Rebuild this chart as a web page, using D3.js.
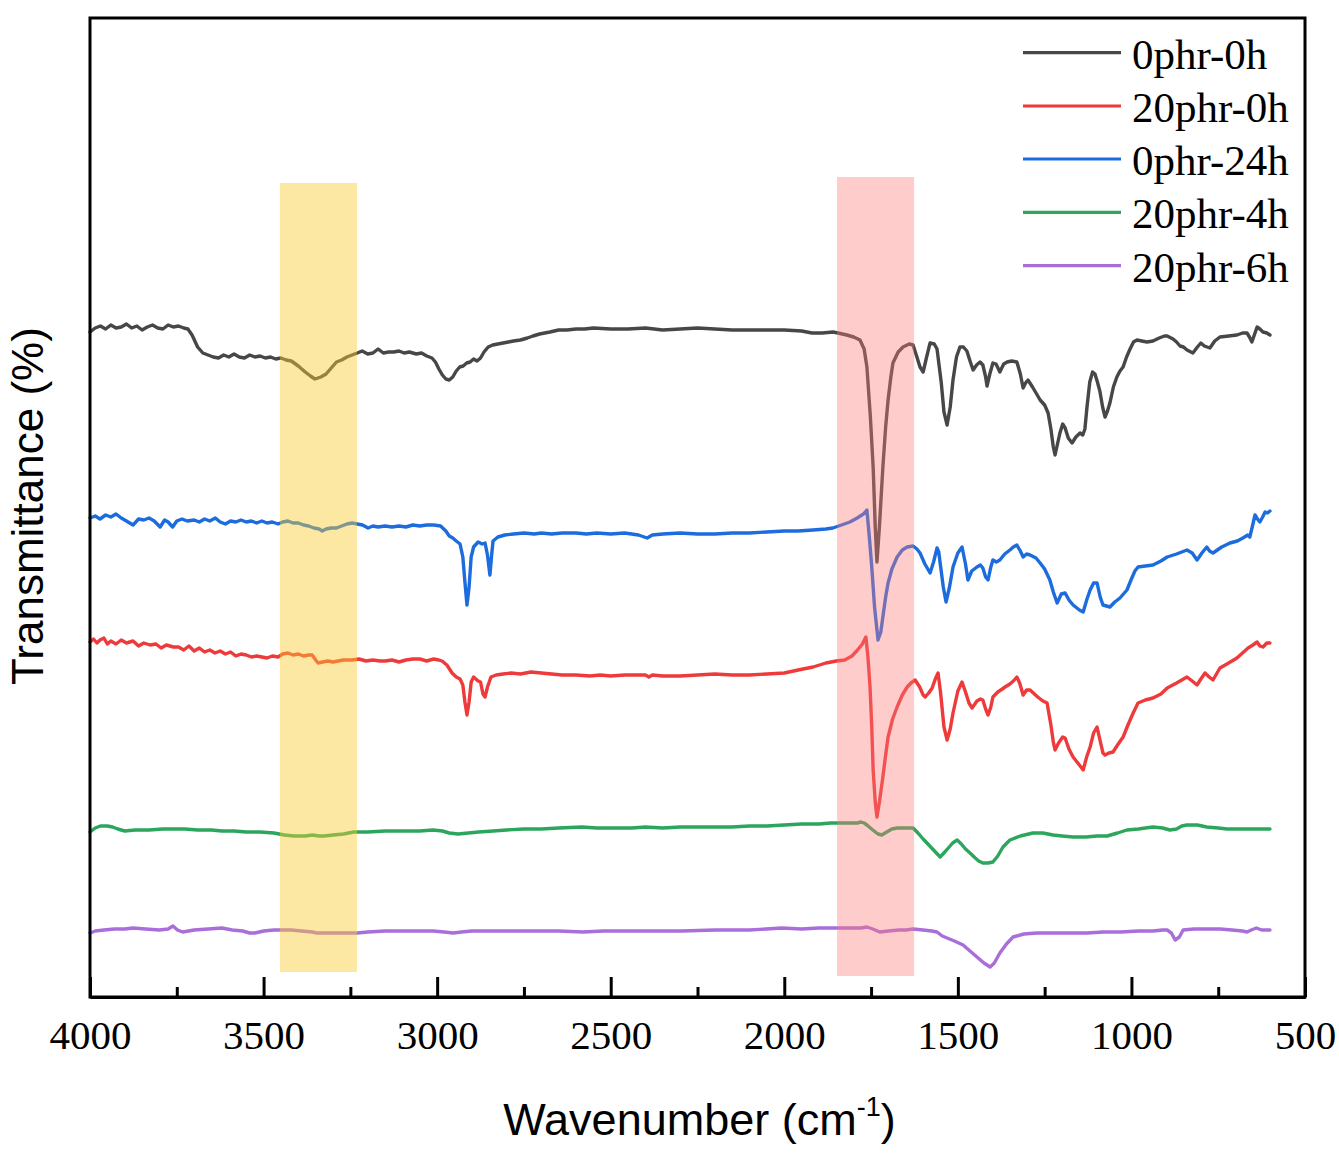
<!DOCTYPE html>
<html>
<head>
<meta charset="utf-8">
<script src="https://cdn.jsdelivr.net/npm/d3@7"></script>
<style>
  html, body { margin: 0; padding: 0; background: #fff; }
  svg { display: block; }
</style>
</head>
<body>
<div id="chart"></div>
<script>
// ---------------- DATA (wavenumber cm-1, transmittance a.u.) ----------------
const seriesNames = ["0phr-0h", "20phr-0h", "0phr-24h", "20phr-4h", "20phr-6h"];

const black = [
[4000,66.5],[3985,66.9],[3970,67.1],[3955,66.8],[3940,67.2],[3925,66.9],[3910,67.0],[3895,67.3],[3880,66.9],[3865,67.1],[3850,66.7],[3835,67.0],[3820,67.2],[3805,66.9],[3790,66.8],[3775,67.2],[3760,67.0],[3745,67.1],[3730,66.9],[3718,66.8],[3706,66.2],[3690,65.0],[3675,64.4],[3660,64.2],[3645,64.0],[3630,63.9],[3615,64.2],[3600,64.0],[3585,64.3],[3570,64.0],[3555,63.9],[3540,64.2],[3525,64.0],[3510,64.1],[3495,63.9],[3480,64.0],[3465,63.8],[3450,63.9],[3435,63.7],[3420,63.6],[3400,63.1],[3380,62.5],[3365,62.1],[3352,61.8],[3335,62.0],[3320,62.3],[3305,62.9],[3290,63.5],[3275,63.7],[3260,64.0],[3245,64.2],[3230,64.4],[3216,64.6],[3200,64.3],[3185,64.4],[3170,64.8],[3155,64.4],[3140,64.5],[3125,64.5],[3110,64.6],[3095,64.4],[3080,64.5],[3060,64.3],[3045,64.4],[3030,64.1],[3015,63.9],[3005,63.5],[2995,62.8],[2985,62.2],[2975,61.8],[2965,61.7],[2955,62.0],[2945,62.6],[2935,63.0],[2925,63.1],[2915,63.4],[2905,63.5],[2895,63.8],[2885,63.6],[2875,63.9],[2865,64.5],[2853,65.0],[2840,65.2],[2825,65.3],[2810,65.4],[2795,65.5],[2780,65.6],[2760,65.7],[2740,65.9],[2724,66.1],[2705,66.3],[2690,66.4],[2675,66.5],[2650,66.7],[2626,66.7],[2600,66.8],[2575,66.8],[2550,66.9],[2500,66.8],[2450,66.8],[2400,66.9],[2350,66.7],[2300,66.8],[2250,66.9],[2200,66.8],[2150,66.7],[2100,66.7],[2050,66.7],[2000,66.7],[1950,66.6],[1920,66.4],[1890,66.4],[1860,66.5],[1845,66.4],[1820,66.2],[1800,66.0],[1782,65.7],[1770,64.8],[1762,63.0],[1752,58.0],[1744,53.0],[1738,47.0],[1733,43.5],[1726,47.0],[1716,53.0],[1708,57.0],[1701,59.7],[1693,62.0],[1687,63.4],[1672,64.5],[1658,65.0],[1640,65.3],[1629,65.2],[1618,64.0],[1609,63.0],[1600,62.5],[1590,64.0],[1580,65.4],[1568,65.3],[1560,64.8],[1548,61.5],[1540,58.5],[1531,57.2],[1522,59.0],[1514,61.7],[1504,64.0],[1494,65.0],[1484,65.0],[1474,64.6],[1464,63.5],[1456,62.7],[1446,63.2],[1436,63.5],[1428,63.2],[1420,62.0],[1416,61.1],[1408,62.3],[1399,63.4],[1390,63.3],[1379,62.5],[1368,63.3],[1358,63.5],[1345,63.6],[1330,63.5],[1320,62.3],[1312,60.9],[1305,61.4],[1298,61.7],[1285,61.0],[1273,60.3],[1263,59.7],[1250,59.2],[1240,58.4],[1232,56.8],[1225,55.0],[1220,54.2],[1213,55.3],[1206,56.4],[1198,57.3],[1191,56.9],[1182,55.9],[1171,55.4],[1160,56.0],[1148,56.4],[1140,56.2],[1134,56.8],[1128,59.0],[1120,61.5],[1112,62.5],[1105,62.3],[1098,61.5],[1091,60.6],[1083,59.0],[1076,58.0],[1069,58.6],[1062,59.4],[1052,61.0],[1042,62.0],[1033,62.6],[1024,63.0],[1014,64.0],[1004,64.8],[994,65.5],[984,65.7],[970,65.6],[955,65.5],[938,65.6],[920,65.9],[905,66.1],[897,66.1],[880,65.8],[870,65.5],[860,65.1],[850,65.0],[840,64.7],[823,64.4],[810,65.0],[800,65.4],[790,65.1],[774,64.9],[760,65.6],[745,66.0],[720,66.1],[696,66.2],[680,66.4],[667,66.4],[660,66.0],[653,65.5],[645,66.3],[638,67.0],[630,66.8],[621,66.5],[610,66.4],[601,66.2]
];

const red = [
[4000,35.5],[3990,35.8],[3980,35.4],[3971,35.7],[3960,35.9],[3950,35.3],[3940,35.6],[3925,35.3],[3910,35.7],[3895,35.4],[3876,35.6],[3860,35.1],[3845,35.4],[3827,35.2],[3810,35.3],[3795,34.9],[3780,35.2],[3760,35.0],[3745,35.0],[3730,34.7],[3715,35.1],[3700,34.6],[3685,34.9],[3670,34.5],[3655,34.7],[3640,34.4],[3625,34.6],[3610,34.3],[3595,34.5],[3580,34.1],[3565,34.3],[3550,34.2],[3535,34.0],[3520,34.1],[3505,34.0],[3490,33.9],[3475,34.1],[3458,34.0],[3445,34.3],[3430,34.4],[3415,34.2],[3400,34.3],[3385,34.1],[3370,34.2],[3360,34.2],[3350,33.7],[3343,33.4],[3330,33.5],[3315,33.6],[3300,33.5],[3285,33.6],[3270,33.7],[3245,33.7],[3225,33.8],[3205,33.6],[3185,33.7],[3165,33.6],[3150,33.6],[3130,33.7],[3110,33.5],[3090,33.7],[3070,33.8],[3050,33.8],[3030,33.6],[3010,33.8],[2995,33.7],[2986,33.6],[2972,33.2],[2957,32.4],[2945,32.0],[2934,31.8],[2926,31.2],[2920,29.5],[2914,28.2],[2908,29.5],[2902,31.5],[2895,32.0],[2882,31.6],[2875,31.5],[2868,30.3],[2862,30.0],[2855,31.0],[2845,32.0],[2830,32.2],[2810,32.3],[2787,32.4],[2760,32.3],[2730,32.5],[2700,32.4],[2670,32.3],[2640,32.2],[2600,32.2],[2560,32.1],[2530,32.2],[2500,32.1],[2460,32.2],[2430,32.2],[2400,32.2],[2390,32.0],[2380,32.2],[2350,32.1],[2300,32.1],[2250,32.2],[2200,32.3],[2150,32.2],[2100,32.2],[2050,32.3],[2000,32.4],[1960,32.7],[1917,33.0],[1880,33.4],[1850,33.6],[1826,33.7],[1805,34.1],[1789,34.7],[1775,35.3],[1765,36.0],[1759,34.0],[1753,31.0],[1748,27.0],[1744,22.7],[1738,19.5],[1733,18.0],[1726,19.5],[1716,22.0],[1708,24.2],[1701,26.0],[1688,27.8],[1675,29.0],[1660,30.2],[1646,31.0],[1635,31.4],[1623,31.7],[1610,31.0],[1600,30.2],[1594,30.0],[1584,30.4],[1574,30.9],[1565,31.8],[1557,32.4],[1550,30.5],[1540,27.0],[1531,25.7],[1522,26.8],[1514,28.4],[1500,30.6],[1488,31.5],[1478,30.5],[1468,29.4],[1459,28.9],[1445,29.6],[1435,29.8],[1428,29.7],[1420,28.8],[1413,28.2],[1405,29.0],[1399,30.0],[1385,30.5],[1372,30.8],[1364,31.0],[1350,31.3],[1340,31.6],[1330,32.0],[1322,31.4],[1312,30.2],[1302,30.7],[1292,30.7],[1270,30.0],[1255,29.6],[1243,29.4],[1232,27.2],[1225,25.5],[1220,24.7],[1210,25.4],[1198,26.0],[1191,25.9],[1180,24.8],[1168,24.0],[1150,23.2],[1139,22.7],[1129,24.0],[1119,25.0],[1109,26.4],[1099,27.0],[1090,25.6],[1082,24.4],[1076,24.2],[1065,24.4],[1053,24.5],[1040,25.2],[1024,26.0],[1010,27.2],[995,28.4],[981,29.4],[960,29.7],[938,29.9],[915,30.3],[897,30.9],[870,31.4],[840,32.0],[825,31.6],[811,31.2],[800,31.8],[788,32.4],[776,32.0],[765,31.7],[755,32.3],[745,32.9],[720,33.4],[696,33.9],[680,34.4],[664,34.9],[650,35.2],[638,35.5],[630,35.1],[621,35.0],[610,35.4],[601,35.4]
];

const blue = [
[4000,47.9],[3985,48.1],[3971,47.8],[3955,48.2],[3940,48.0],[3925,48.3],[3910,47.9],[3895,47.6],[3876,47.2],[3860,47.8],[3845,47.7],[3830,47.9],[3815,47.6],[3798,47.0],[3785,47.7],[3775,47.5],[3762,47.0],[3750,47.6],[3735,47.8],[3720,47.6],[3700,47.7],[3685,47.5],[3670,47.8],[3655,47.6],[3639,47.9],[3625,47.5],[3610,47.3],[3595,47.6],[3580,47.5],[3565,47.7],[3550,47.5],[3535,47.6],[3520,47.4],[3505,47.6],[3490,47.4],[3475,47.5],[3458,47.3],[3445,47.5],[3430,47.6],[3415,47.4],[3400,47.4],[3385,47.2],[3370,47.1],[3355,46.9],[3340,46.8],[3331,46.6],[3320,46.8],[3305,46.9],[3290,46.9],[3275,47.1],[3260,47.3],[3245,47.4],[3230,47.3],[3215,47.2],[3199,46.9],[3185,47.1],[3170,47.0],[3150,47.1],[3130,47.0],[3110,47.1],[3090,47.0],[3070,47.2],[3050,47.1],[3030,47.2],[3010,47.2],[2990,47.1],[2975,46.6],[2965,46.1],[2955,45.9],[2945,45.6],[2934,45.3],[2926,44.0],[2920,41.5],[2914,39.2],[2908,41.0],[2902,44.0],[2895,45.0],[2882,45.5],[2870,45.3],[2862,45.4],[2855,44.2],[2848,42.2],[2843,44.2],[2839,45.6],[2825,46.0],[2805,46.2],[2780,46.3],[2750,46.4],[2720,46.3],[2700,46.4],[2670,46.3],[2640,46.4],[2600,46.4],[2570,46.3],[2540,46.4],[2500,46.3],[2460,46.4],[2420,46.2],[2395,45.9],[2380,46.2],[2350,46.3],[2300,46.4],[2250,46.3],[2200,46.3],[2150,46.4],[2100,46.4],[2050,46.5],[2000,46.6],[1960,46.6],[1917,46.7],[1880,46.8],[1860,46.9],[1835,47.2],[1811,47.5],[1790,47.9],[1772,48.3],[1762,48.7],[1755,46.0],[1748,43.0],[1740,39.0],[1730,35.7],[1722,36.5],[1716,38.0],[1708,40.0],[1701,41.4],[1690,42.8],[1675,44.0],[1660,44.7],[1646,45.0],[1629,45.1],[1618,44.8],[1609,44.4],[1595,43.3],[1580,42.4],[1570,43.5],[1560,44.9],[1555,44.5],[1551,43.4],[1542,41.0],[1534,39.5],[1524,41.0],[1514,43.0],[1500,44.4],[1488,45.0],[1478,43.3],[1471,41.7],[1460,42.6],[1445,43.0],[1435,43.2],[1428,42.9],[1420,42.0],[1413,41.7],[1405,43.0],[1399,43.7],[1389,43.5],[1379,43.7],[1365,44.3],[1350,44.7],[1340,45.0],[1330,45.2],[1320,44.6],[1312,44.0],[1302,44.3],[1292,44.2],[1275,43.9],[1263,43.4],[1250,42.8],[1235,41.7],[1225,40.5],[1214,39.4],[1202,40.3],[1191,40.4],[1180,39.7],[1168,39.2],[1150,38.7],[1139,38.5],[1128,39.8],[1119,40.7],[1109,41.4],[1099,41.4],[1090,40.0],[1082,39.2],[1072,39.1],[1062,39.0],[1048,39.5],[1033,39.9],[1013,40.7],[1000,41.8],[990,42.6],[981,43.0],[960,43.1],[938,43.2],[915,43.6],[897,44.0],[870,44.3],[840,44.7],[825,44.4],[811,43.7],[797,44.4],[783,45.0],[775,44.6],[765,44.4],[740,45.0],[716,45.4],[695,45.6],[679,45.9],[665,46.2],[659,46.0],[652,47.0],[644,48.2],[637,47.8],[630,47.5],[622,48.0],[615,48.5],[608,48.4],[601,48.6]
];

const green = [
[4000,16.5],[3985,16.9],[3970,17.1],[3950,17.1],[3935,17.0],[3920,16.8],[3900,16.6],[3870,16.7],[3830,16.7],[3790,16.8],[3750,16.8],[3727,16.8],[3690,16.7],[3650,16.7],[3620,16.6],[3585,16.6],[3550,16.5],[3510,16.5],[3470,16.4],[3440,16.2],[3412,16.1],[3380,16.1],[3360,16.2],[3340,16.1],[3326,16.1],[3300,16.2],[3270,16.3],[3240,16.5],[3200,16.5],[3150,16.6],[3100,16.6],[3050,16.6],[3012,16.7],[2985,16.6],[2965,16.4],[2940,16.3],[2910,16.4],[2880,16.5],[2839,16.6],[2800,16.7],[2750,16.8],[2700,16.8],[2650,16.9],[2583,17.0],[2540,16.9],[2500,16.9],[2439,16.9],[2400,17.0],[2350,16.9],[2300,17.0],[2250,17.0],[2200,17.0],[2151,17.0],[2100,17.1],[2050,17.1],[2000,17.2],[1950,17.3],[1900,17.3],[1866,17.4],[1820,17.4],[1790,17.4],[1779,17.5],[1770,17.4],[1762,17.2],[1745,16.7],[1730,16.3],[1719,16.2],[1705,16.5],[1690,16.8],[1675,16.9],[1655,16.9],[1629,16.9],[1615,16.4],[1600,15.8],[1589,15.4],[1570,14.7],[1551,14.0],[1535,14.6],[1515,15.4],[1502,15.7],[1490,15.3],[1478,14.8],[1465,14.4],[1450,13.9],[1440,13.6],[1428,13.4],[1413,13.4],[1399,13.5],[1385,14.1],[1370,15.0],[1350,15.7],[1320,16.1],[1284,16.4],[1255,16.4],[1226,16.2],[1200,16.1],[1168,16.0],[1130,16.0],[1100,16.1],[1070,16.1],[1040,16.4],[1013,16.7],[980,16.8],[960,16.9],[938,17.0],[910,16.9],[889,16.7],[870,16.8],[855,17.1],[840,17.2],[810,17.2],[783,17.0],[750,16.9],[725,16.8],[680,16.8],[640,16.8],[601,16.8]
];

const purple = [
[4000,6.4],[3985,6.6],[3960,6.7],[3930,6.8],[3900,6.8],[3876,6.9],[3840,6.8],[3800,6.7],[3775,6.8],[3761,7.1],[3748,6.7],[3733,6.5],[3700,6.7],[3660,6.8],[3620,6.9],[3590,6.7],[3560,6.6],[3540,6.4],[3525,6.4],[3500,6.6],[3470,6.7],[3447,6.7],[3420,6.7],[3390,6.6],[3360,6.5],[3346,6.4],[3300,6.4],[3270,6.4],[3231,6.4],[3200,6.5],[3150,6.6],[3100,6.6],[3050,6.6],[3012,6.6],[2980,6.5],[2954,6.4],[2930,6.5],[2900,6.6],[2850,6.6],[2800,6.6],[2724,6.6],[2650,6.6],[2580,6.5],[2520,6.6],[2450,6.6],[2380,6.6],[2295,6.6],[2200,6.7],[2100,6.7],[2007,6.9],[1950,6.8],[1900,6.9],[1850,6.9],[1800,6.9],[1779,6.9],[1762,7.0],[1745,6.8],[1725,6.5],[1700,6.6],[1670,6.7],[1650,6.7],[1629,6.8],[1600,6.7],[1575,6.6],[1560,6.5],[1545,6.1],[1531,5.9],[1510,5.6],[1485,5.2],[1465,4.6],[1445,4.0],[1425,3.4],[1407,3.0],[1395,3.4],[1379,4.4],[1360,5.3],[1341,6.0],[1310,6.3],[1272,6.4],[1220,6.4],[1180,6.4],[1128,6.4],[1080,6.5],[1030,6.5],[980,6.6],[938,6.6],[910,6.7],[897,6.7],[885,6.4],[874,5.7],[862,6.0],[851,6.7],[820,6.8],[780,6.8],[745,6.8],[710,6.7],[680,6.6],[667,6.5],[655,6.7],[640,6.9],[625,6.7],[610,6.7],[601,6.7]
];

// highlighted bands: wavenumber range and vertical extent (a.u.)
const bandFrom = [3453, 1848];
const bandTo   = [3231, 1626];
const bandTop  = [81.4, 82.0];
const bandBot  = [2.5, 2.1];

const majorTicks = [4000, 3500, 3000, 2500, 2000, 1500, 1000, 500];
const minorTicks = [3750, 3250, 2750, 2250, 1750, 1250, 750];

// ---------------- STYLE / LAYOUT ----------------
const W = 1339, H = 1154;
const plot = { left: 90, right: 1305, top: 18, bottom: 997 };
const colors = ["#474747", "#EE3A3A", "#1C6CDD", "#2BA65C", "#A96ED9"];
const bandColors = ["rgba(250,205,50,0.45)", "rgba(255,120,120,0.38)"];
const seriesData = [black, red, blue, green, purple];

const svg = d3.select("#chart").append("svg")
  .attr("width", W).attr("height", H)
  .attr("viewBox", `0 0 ${W} ${H}`);

const x = d3.scaleLinear().domain([4000, 500]).range([plot.left, plot.right]);
const y = d3.scaleLinear().domain([0, 97.9]).range([plot.bottom, plot.top]);

const line = d3.line().x(d => x(d[0])).y(d => y(d[1])).curve(d3.curveLinear);

// series (drawn under highlight bands)
const gLines = svg.append("g");
[4, 3, 1, 2, 0].forEach(i => {
  gLines.append("path")
    .datum(seriesData[i])
    .attr("fill", "none")
    .attr("stroke", colors[i])
    .attr("stroke-width", 3.4)
    .attr("stroke-linejoin", "round")
    .attr("stroke-linecap", "round")
    .attr("d", line);
});

// bands on top, semi-transparent
bandFrom.forEach((f, i) => {
  svg.append("rect")
    .attr("x", x(f))
    .attr("width", x(bandTo[i]) - x(f))
    .attr("y", y(bandTop[i]))
    .attr("height", y(bandBot[i]) - y(bandTop[i]))
    .attr("fill", bandColors[i]);
});

// frame
svg.append("rect")
  .attr("x", plot.left).attr("y", plot.top)
  .attr("width", plot.right - plot.left).attr("height", plot.bottom - plot.top)
  .attr("fill", "none").attr("stroke", "#000").attr("stroke-width", 3);

// bottom axis: major ticks inward
const gx = svg.append("g").attr("transform", `translate(0,${plot.bottom})`)
  .call(d3.axisBottom(x).tickValues(majorTicks).tickSizeInner(-20).tickSizeOuter(0).tickFormat(d3.format("d")));
gx.select(".domain").attr("stroke-width", 3);
gx.selectAll(".tick line").attr("stroke-width", 3);
gx.selectAll(".tick text")
  .attr("y", 52).attr("dy", 0)
  .attr("font-family", "'Liberation Serif', 'Times New Roman', serif")
  .attr("font-size", 41).attr("fill", "#000");

// minor ticks
const gxm = svg.append("g").attr("transform", `translate(0,${plot.bottom})`)
  .call(d3.axisBottom(x).tickValues(minorTicks).tickSizeInner(-10).tickSizeOuter(0).tickFormat(""));
gxm.select(".domain").remove();
gxm.selectAll(".tick line").attr("stroke-width", 3);

// axis titles
const xt = svg.append("text")
  .attr("x", (plot.left + plot.right) / 2 + 2).attr("y", 1135)
  .attr("text-anchor", "middle")
  .attr("font-family", "'Liberation Sans', Arial, sans-serif")
  .attr("font-size", 45).attr("fill", "#000");
xt.append("tspan").text("Wavenumber (cm");
xt.append("tspan").attr("font-size", 27).attr("dy", -19).text("-1");
xt.append("tspan").attr("dy", 19).text(")");

svg.append("text")
  .attr("transform", "translate(43,506) rotate(-90)")
  .attr("text-anchor", "middle")
  .attr("font-family", "'Liberation Sans', Arial, sans-serif")
  .attr("font-size", 44).attr("fill", "#000")
  .text("Transmittance (%)");

// legend
const legend = svg.append("g");
const legY = [52.7, 106, 159, 212.3, 265.7];
seriesNames.forEach((name, i) => {
  legend.append("line")
    .attr("x1", 1023).attr("x2", 1121)
    .attr("y1", legY[i]).attr("y2", legY[i])
    .attr("stroke", colors[i]).attr("stroke-width", 3.2);
  legend.append("text")
    .attr("x", 1132).attr("y", legY[i] + 16)
    .attr("font-family", "'Liberation Serif', 'Times New Roman', serif")
    .attr("font-size", 43).attr("fill", "#000")
    .text(name);
});
</script>
</body>
</html>
